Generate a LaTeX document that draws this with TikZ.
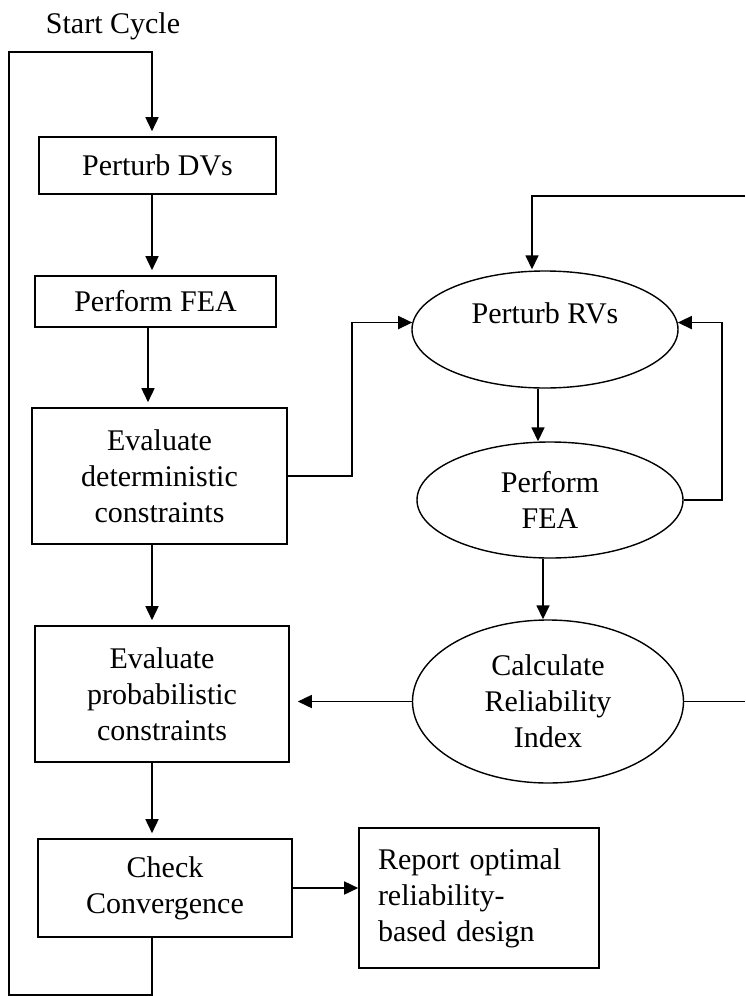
\documentclass[tikz,border=0pt]{standalone}
\usepackage{fontspec}
\setmainfont{Liberation Serif}
\usetikzlibrary{arrows.meta,shapes.geometric,calc}
\begin{document}
\begin{tikzpicture}[x=1pt,y=-1pt,
  font=\fontsize{30}{36}\selectfont,
  box/.style={draw,line width=1.6pt,rectangle,align=center,inner sep=0pt},
  oval/.style={draw,line width=1.4pt,ellipse,align=center,inner sep=0pt},
  arr/.style={line width=1.6pt,-{Triangle[length=14pt,width=13pt]}},
  barr/.style={arr,shorten >=5pt},
  ln/.style={line width=1.6pt}]
\useasboundingbox (0,0) rectangle (745,996);

% left column
\node[inner sep=0pt] (start) at (113,26) {Start Cycle};
\node[box,minimum width=237pt,minimum height=57pt] (dv) at (157.5,165.5) {Perturb DVs};
\node[box,minimum width=241pt,minimum height=51pt] (fea) at (155.5,301.5) {Perform FEA};
\node[box,minimum width=255pt,minimum height=136pt] (det) at (159.5,476) {Evaluate\\deterministic\\constraints};
\node[box,minimum width=254pt,minimum height=136pt] (prob) at (162,694) {Evaluate\\probabilistic\\constraints};
\node[box,minimum width=254pt,minimum height=98pt] (chk) at (165,888) {Check\\Convergence};
\node[box,minimum width=240pt,minimum height=140pt,inner xsep=19pt,text width=202pt,align=left] (rep) at (479,898) {Report optimal\\reliability-\\based design};

% right column
\node[oval,minimum width=266pt,minimum height=117pt,text depth=32pt] (prv) at (545,329.5) {Perturb RVs};
\node[oval,minimum width=266pt,minimum height=116pt] (pfea) at (550,500) {Perform\\FEA};
\node[oval,minimum width=271pt,minimum height=163pt] (calc) at (548,701.5) {Calculate\\Reliability\\Index};

% helper coordinates
\coordinate (sp) at (152,0);
\coordinate (sp2) at (148,0);
\coordinate (bl) at (9,995);
\coordinate (tl) at (9,52);
\coordinate (dj) at (352,0);
\coordinate (tr) at (745,196);
\coordinate (c2) at (538,0);
\coordinate (c3) at (543,0);
\coordinate (rj) at (722,0);
\coordinate (cr) at (745,0);

% left column connectors
\draw[barr] (chk.south -| sp) |- (bl) -- (tl) -| (dv.north -| sp);
\draw[barr] (dv.south -| sp) -- (fea.north -| sp);
\draw[barr] (fea.south -| sp2) -- (det.north -| sp2);
\draw[barr] (det.south -| sp) -- (prob.north -| sp);
\draw[barr] (prob.south -| sp) -- (chk.north -| sp);
\draw[arr] (chk.east) -- (chk.east -| rep.west);

% cross connectors
\draw[arr] (det.east) -| (dj |- prv.177) -- (prv.177);
\draw[barr,shorten >=8pt] (calc.west) -- (calc.west -| prob.east);

% right column connectors
\draw[arr,shorten >=1pt] (tr) -| ($(prv.north)+(-13,0)$);
\draw[arr] (prv.south -| c2) -- (pfea.north -| c2);
\draw[arr] (pfea.east) -| (rj |- prv.3) -- (prv.3);
\draw[arr] (pfea.south -| c3) -- (calc.north -| c3);
\draw[ln] (calc.east) -- (calc.east -| cr);
\end{tikzpicture}
\end{document}
